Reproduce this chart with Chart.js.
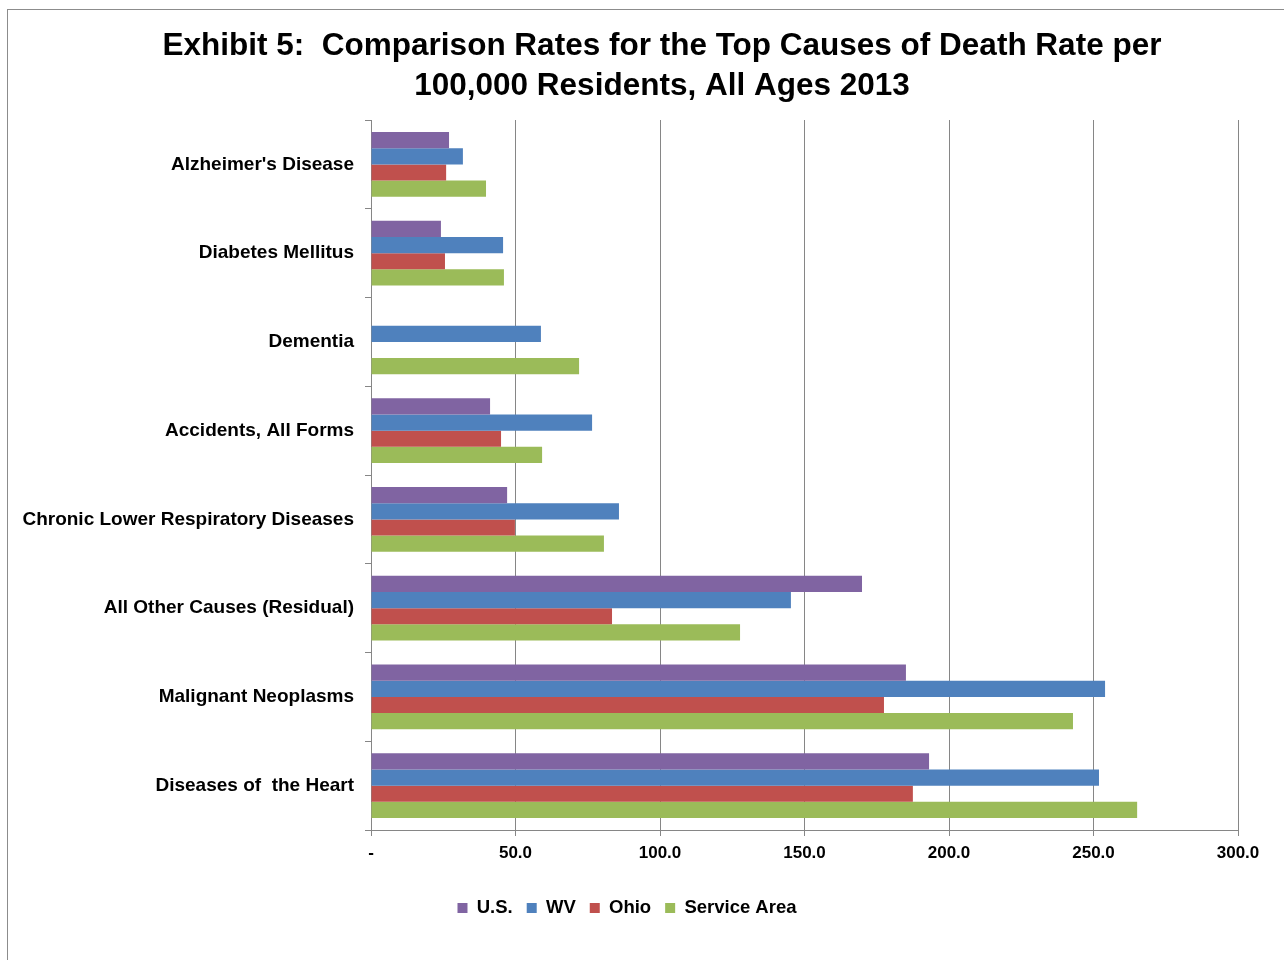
<!DOCTYPE html>
<html>
<head>
<meta charset="utf-8">
<title>Exhibit 5</title>
<script src="https://cdn.jsdelivr.net/npm/chart.js@4"></script>
<style>
    html, body { margin: 0; padding: 0; background: #fff; overflow: hidden; }
    .frame { position: absolute; left: 7px; top: 9px; width: 1300px; height: 1000px; border: 1px solid #8c8c8c; }
    .chart-container { position: absolute; left: 0; top: 0; width: 1284px; height: 960px; }
</style>
</head>
<body>
<div class="frame"></div>
<div class="chart-container"><canvas id="deathChart" width="1284" height="960"></canvas></div>
<script>
const causes = [
    "Alzheimer's Disease",
    "Diabetes Mellitus",
    "Dementia",
    "Accidents, All Forms",
    "Chronic Lower Respiratory Diseases",
    "All Other Causes (Residual)",
    "Malignant Neoplasms",
    "Diseases of  the Heart"
];
const usRates = [27.0, 24.2, null, 41.2, 47.1, 169.9, 185.1, 193.1];
const wvRates = [31.8, 45.7, 58.8, 76.5, 85.8, 145.3, 254.0, 251.9];
const ohioRates = [26.0, 25.6, null, 45.0, 49.8, 83.4, 177.5, 187.5];
const serviceAreaRates = [39.8, 46.0, 72.0, 59.2, 80.6, 127.7, 242.9, 265.1];
const xTicks = [0, 50, 100, 150, 200, 250, 300];

const fontFamily = "'Liberation Sans', Arial, sans-serif";

// the original centres title and legend on their own, not on the canvas
const shiftBlocks = {
    id: "shiftBlocks",
    afterLayout(chart) {
        chart.titleBlock.left += 43;
        chart.titleBlock.right += 43;
        chart.legend.left += 8;
        chart.legend.right += 8;
    }
};

new Chart(document.getElementById("deathChart"), {
    type: "bar",
    data: {
        labels: causes,
        datasets: [
            { label: "U.S.", data: usRates, backgroundColor: "#8064A2" },
            { label: "WV", data: wvRates, backgroundColor: "#4F81BD" },
            { label: "Ohio", data: ohioRates, backgroundColor: "#C0504D" },
            { label: "Service Area", data: serviceAreaRates, backgroundColor: "#9BBB59" }
        ]
    },
    options: {
        indexAxis: "y",
        responsive: false,
        animation: false,
        datasets: { bar: { categoryPercentage: 0.73, barPercentage: 1.0 } },
        layout: { padding: { left: 0, right: 46, top: 0, bottom: 32.75 } },
        plugins: {
            title: {
                display: true,
                text: ["Exhibit 5:  Comparison Rates for the Top Causes of Death Rate per", "100,000 Residents, All Ages 2013"],
                color: "#000",
                font: { family: fontFamily, size: 31.5, weight: "bold", lineHeight: 1.25 },
                padding: { top: 27, bottom: 14.25 }
            },
            legend: {
                display: true,
                position: "bottom",
                labels: {
                    color: "#000",
                    boxWidth: 10,
                    boxHeight: 10,
                    padding: 14,
                    font: { family: fontFamily, size: 18.5, weight: "bold" }
                }
            },
            tooltip: { enabled: false }
        },
        scales: {
            x: {
                min: 0,
                max: 300,
                afterBuildTicks: scale => { scale.ticks = xTicks.map(v => ({ value: v })); },
                afterFit: scale => { scale.height = 54.75; },
                border: { color: "#868686", width: 1 },
                grid: { color: "#868686", lineWidth: 1, tickLength: 6 },
                ticks: {
                    color: "#000",
                    padding: 7,
                    font: { family: fontFamily, size: 17, weight: "bold" },
                    callback: v => v === 0 ? "-" : v.toFixed(1)
                }
            },
            y: {
                afterFit: scale => { scale.width = 371; },
                border: { color: "#868686", width: 1 },
                grid: { drawOnChartArea: false, color: "#868686", tickLength: 6, offset: true },
                ticks: {
                    color: "#000",
                    padding: 11,
                    font: { family: fontFamily, size: 19, weight: "bold" }
                }
            }
        }
    },
    plugins: [shiftBlocks]
});
</script>
</body>
</html>
